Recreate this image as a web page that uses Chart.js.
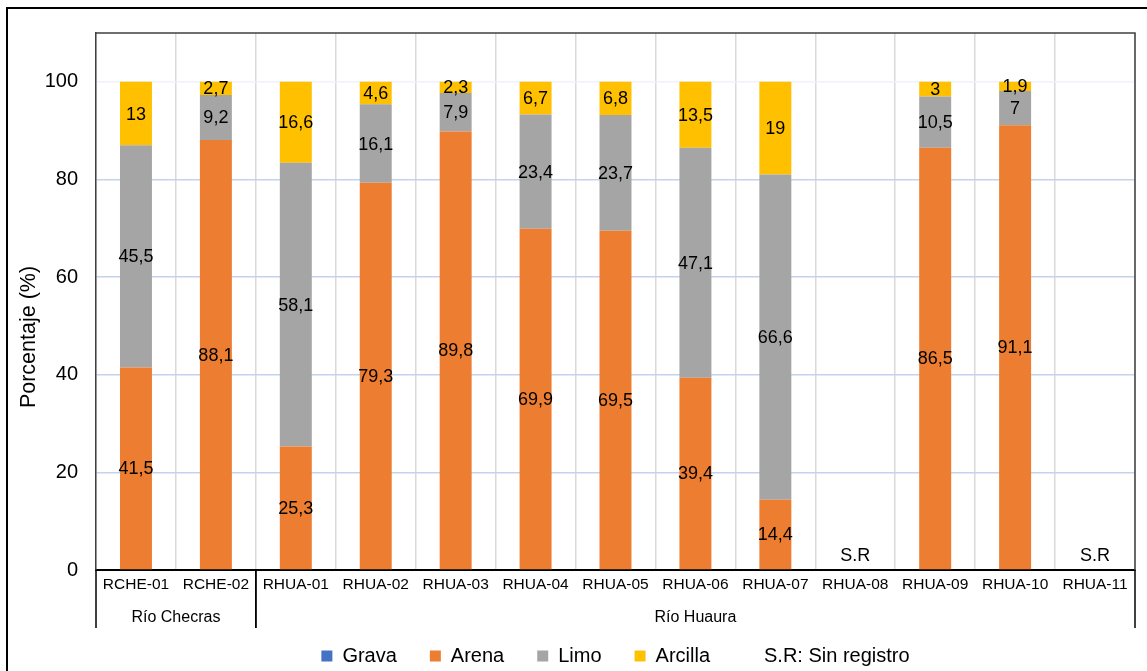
<!DOCTYPE html>
<html>
<head>
<meta charset="utf-8">
<script src="https://cdn.jsdelivr.net/npm/chart.js@4"></script>
<style>
  html, body { margin: 0; padding: 0; background: #fff; overflow: hidden; }
  #wrap { position: relative; width: 1147px; height: 671px; }
</style>
</head>
<body>
<div id="wrap"><canvas id="chart"></canvas></div>
<script>
// stations along the x axis
const stations = ['RCHE-01', 'RCHE-02', 'RHUA-01', 'RHUA-02', 'RHUA-03', 'RHUA-04', 'RHUA-05',
                  'RHUA-06', 'RHUA-07', 'RHUA-08', 'RHUA-09', 'RHUA-10', 'RHUA-11'];
// river groups under the station labels
const groupNames = ['Río Checras', 'Río Huaura'];
const groupSizes = [2, 11];

// percentages per fraction (null = sin registro)
const grava   = [0, 0, 0, 0, 0, 0, 0, 0, 0, null, 0, 0, null];
const arena   = [41.5, 88.1, 25.3, 79.3, 89.8, 69.9, 69.5, 39.4, 14.4, null, 86.5, 91.1, null];
const limo    = [45.5, 9.2, 58.1, 16.1, 7.9, 23.4, 23.7, 47.1, 66.6, null, 10.5, 7, null];
const arcilla = [13, 2.7, 16.6, 4.6, 2.3, 6.7, 6.8, 13.5, 19, null, 3, 1.9, null];

const yTicks = [0, 20, 40, 60, 80, 100];

const FONT = 'Arial, "Liberation Sans", sans-serif';
Chart.defaults.font.family = FONT;
Chart.defaults.color = '#000';

const fmt = v => String(v).replace('.', ',');

// numbers centred in each stacked segment, and S.R where there is no data
const valueLabels = {
    id: 'valueLabels',
    afterDatasetsDraw(chart) {
        const ctx = chart.ctx;
        ctx.save();
        ctx.font = '18px ' + FONT;
        ctx.fillStyle = '#000';
        ctx.textAlign = 'center';
        ctx.textBaseline = 'middle';
        chart.data.datasets.forEach((ds, di) => {
            if (di === 0) return;
            chart.getDatasetMeta(di).data.forEach((bar, i) => {
                const v = ds.data[i];
                if (v == null || v === 0) return;
                ctx.fillText(fmt(v), bar.x, (bar.y + bar.base) / 2 + 1);
            });
        });
        const xs = chart.scales.x, ys = chart.scales.y;
        arena.forEach((v, i) => {
            if (v == null) ctx.fillText('S.R', xs.getPixelForValue(i), ys.getPixelForValue(0) - 14);
        });
        ctx.restore();
    }
};

// outer frame, plot border, group row and y title
const frame = {
    id: 'frame',
    afterDraw(chart) {
        const ctx = chart.ctx;
        const a = chart.chartArea;
        const xs = chart.scales.x;
        ctx.save();
        // outer border
        ctx.strokeStyle = '#000';
        ctx.lineWidth = 2;
        ctx.beginPath();
        ctx.moveTo(7, chart.height);
        ctx.lineTo(7, 8);
        ctx.lineTo(chart.width, 8);
        ctx.stroke();
        // plot top / right border
        ctx.strokeStyle = '#404040';
        ctx.lineWidth = 1.5;
        ctx.beginPath();
        ctx.moveTo(a.left, a.top);
        ctx.lineTo(a.right, a.top);
        ctx.lineTo(a.right, a.bottom);
        ctx.stroke();
        // group separators and names
        const half = (xs.getPixelForValue(1) - xs.getPixelForValue(0)) / 2;
        ctx.strokeStyle = '#000';
        ctx.lineWidth = 1.5;
        ctx.font = '16px ' + FONT;
        ctx.fillStyle = '#000';
        ctx.textAlign = 'center';
        ctx.textBaseline = 'middle';
        let start = 0;
        groupSizes.forEach((n, g) => {
            const x0 = xs.getPixelForValue(start) - half;
            const x1 = xs.getPixelForValue(start + n - 1) + half;
            [x0, x1].forEach(x => {
                ctx.beginPath();
                ctx.moveTo(x, a.bottom);
                ctx.lineTo(x, a.bottom + 58);
                ctx.stroke();
            });
            ctx.fillText(groupNames[g], (x0 + x1) / 2, a.bottom + 48);
            start += n;
        });
        // y axis title
        ctx.font = '21.5px ' + FONT;
        ctx.translate(29, 337);
        ctx.rotate(-Math.PI / 2);
        ctx.fillText('Porcentaje (%)', 0, 0);
        ctx.restore();
    }
};

const colors = ['#4472C4', '#ED7D31', '#A5A5A5', '#FFC000'];
const names = ['Grava', 'Arena', 'Limo', 'Arcilla'];
const series = [grava, arena, limo, arcilla];

new Chart(document.getElementById('chart'), {
    type: 'bar',
    data: {
        labels: stations,
        datasets: series.map((d, i) => ({
            label: names[i],
            data: d,
            backgroundColor: colors[i],
            borderWidth: 0,
            barPercentage: 0.4,
            categoryPercentage: 1
        }))
    },
    options: {
        responsive: true,
        maintainAspectRatio: false,
        animation: false,
        layout: { padding: { top: 33, left: 0, right: 12, bottom: 0 } },
        scales: {
            x: {
                stacked: true,
                grid: { offset: true, color: '#D9D9D9', lineWidth: 1.5, drawTicks: false },
                border: { color: '#000', width: 2 },
                ticks: { font: { size: 15.5 }, color: '#000', padding: 5, maxRotation: 0, autoSkip: false },
                afterFit(scale) { scale.height = 43; }
            },
            y: {
                stacked: true,
                min: 0,
                max: 110,
                ticks: { stepSize: 20, font: { size: 20 }, color: '#000', padding: 18 },
                afterBuildTicks(scale) { scale.ticks = yTicks.map(v => ({ value: v })); },
                grid: {
                    drawTicks: false,
                    lineWidth: 1.5,
                    color: c => (c.tick && c.tick.value === 100) ? '#EEF2FA' : '#C5D2EC'
                },
                border: { color: '#404040', width: 1.5 },
                afterFit(scale) { scale.width = 96; }
            }
        },
        plugins: {
            tooltip: { enabled: false },
            legend: {
                position: 'bottom',
                fullSize: false,
                maxHeight: 58,
                labels: {
                    boxWidth: 11,
                    boxHeight: 11,
                    padding: 33,
                    color: '#000',
                    font: { size: 20 },
                    generateLabels(chart) {
                        const items = chart.data.datasets.map((ds, i) => ({
                            text: ds.label,
                            fillStyle: ds.backgroundColor,
                            strokeStyle: ds.backgroundColor,
                            lineWidth: 0,
                            hidden: false,
                            datasetIndex: i
                        }));
                        items.push({
                            text: 'S.R: Sin registro',
                            fillStyle: 'rgba(0,0,0,0)',
                            strokeStyle: 'rgba(0,0,0,0)',
                            lineWidth: 0,
                            hidden: false
                        });
                        return items;
                    }
                }
            }
        }
    },
    plugins: [valueLabels, frame]
});
</script>
</body>
</html>
